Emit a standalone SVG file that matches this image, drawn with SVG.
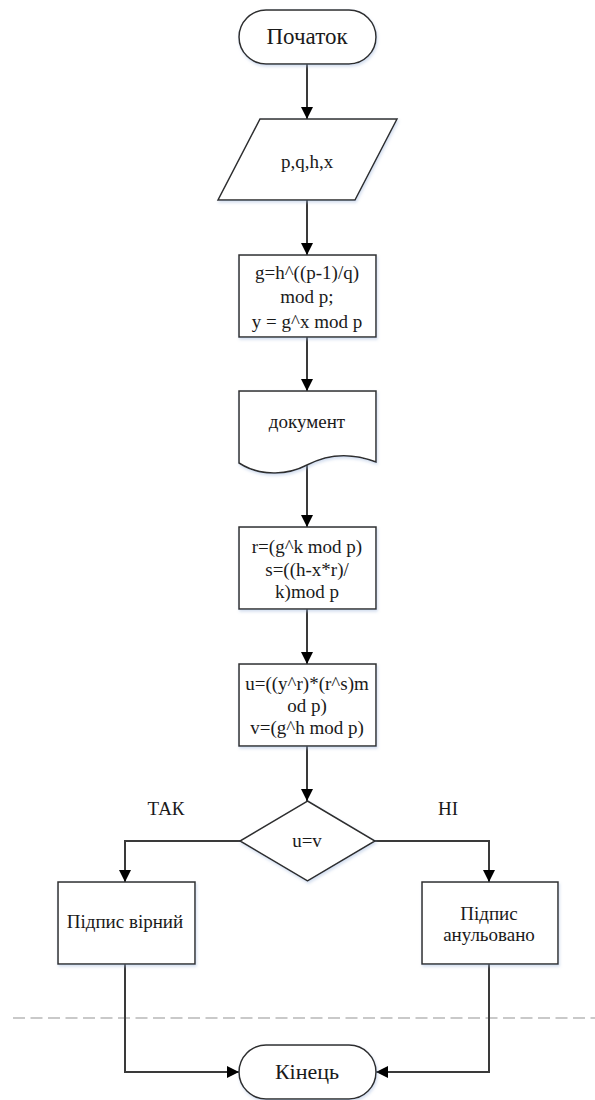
<svg xmlns="http://www.w3.org/2000/svg" width="595" height="1100" viewBox="0 0 595 1100">
  <style>
    .shape { fill: #ffffff; stroke: #2e2e2e; stroke-width: 1.5; filter: url(#soft); }
    .wire { fill: none; stroke: #3a3a3a; stroke-width: 2; marker-end: url(#arrow); }
    .label { font-family: 'Liberation Serif', 'Times New Roman', serif; font-size: 19px; fill: #1a1a1a; text-anchor: middle; }
    .big { font-size: 22px; }
    .rule { stroke: #b8b8b8; stroke-width: 1.5; stroke-dasharray: 12 5.5; fill: none; }
  </style>
  <defs>
    <filter id="soft" x="-10%" y="-10%" width="120%" height="130%">
      <feDropShadow dx="1" dy="2" stdDeviation="1.5" flood-color="#9fb6dc" flood-opacity="0.45"/>
    </filter>
    <marker id="arrow" markerUnits="userSpaceOnUse" markerWidth="12" markerHeight="12" refX="12" refY="6" orient="auto">
      <path d="M0,0 L12,6 L0,12 z" fill="#000000"/>
    </marker>
  </defs>

  <rect width="595" height="1100" fill="#ffffff"/>

  <!-- page break guide -->
  <line class="rule" x1="13" y1="1018" x2="595" y2="1018"/>

  <g id="connectors">
    <line class="wire" x1="307" y1="64" x2="307" y2="119"/>
    <line class="wire" x1="307" y1="200" x2="307" y2="255"/>
    <line class="wire" x1="307" y1="337" x2="307" y2="391"/>
    <line class="wire" x1="307" y1="465" x2="307" y2="527"/>
    <line class="wire" x1="307" y1="609" x2="307" y2="664"/>
    <line class="wire" x1="307" y1="746" x2="307" y2="801"/>
    <polyline class="wire" points="240,841 125,841 125,882"/>
    <polyline class="wire" points="375,841 489,841 489,882"/>
    <polyline class="wire" points="125,964 125,1072 239,1072"/>
    <polyline class="wire" points="489,964 489,1072 376,1072"/>
  </g>

  <g id="start">
    <rect class="shape" x="239" y="10" width="137" height="54" rx="27" ry="27"/>
    <text class="label big" x="307" y="44" style="font-size:23px">Початок</text>
  </g>

  <g id="input">
    <polygon class="shape" points="260,119 397,119 355,200 218,200"/>
    <text class="label" x="307" y="168">p,q,h,x</text>
  </g>

  <g id="keys">
    <rect class="shape" x="239" y="255" width="137" height="82"/>
    <text class="label" x="307" y="279">g=h^((p-1)/q)</text>
    <text class="label" x="307" y="303">mod p;</text>
    <text class="label" x="307" y="328">y = g^x mod p</text>
  </g>

  <g id="document">
    <path class="shape" d="M239,391 H376 V462 C350,452 326,455 307,465 C290,474 262,478 239,463 Z"/>
    <text class="label" x="307" y="428">документ</text>
  </g>

  <g id="sign">
    <rect class="shape" x="239" y="527" width="137" height="82"/>
    <text class="label" x="307" y="553">r=(g^k mod p)</text>
    <text class="label" x="307" y="576">s=((h-x*r)/</text>
    <text class="label" x="307" y="598">k)mod p</text>
  </g>

  <g id="verify">
    <rect class="shape" x="239" y="664" width="137" height="82"/>
    <text class="label" x="307" y="690">u=((y^r)*(r^s)m</text>
    <text class="label" x="307" y="712">od p)</text>
    <text class="label" x="307" y="734">v=(g^h mod p)</text>
  </g>

  <g id="check">
    <polygon class="shape" points="307.5,801 375,841 307.5,881 240,841"/>
    <text class="label" x="307" y="847">u=v</text>
  </g>

  <g id="branch-labels">
    <text class="label" x="166" y="815">ТАК</text>
    <text class="label" x="448" y="815">НІ</text>
  </g>

  <g id="valid">
    <rect class="shape" x="58" y="882" width="137" height="82"/>
    <text class="label" x="125" y="928">Підпис вірний</text>
  </g>

  <g id="revoked">
    <rect class="shape" x="422" y="882" width="136" height="82"/>
    <text class="label" x="489" y="920">Підпис</text>
    <text class="label" x="489" y="941">анульовано</text>
  </g>

  <g id="end">
    <rect class="shape" x="239" y="1045" width="137" height="54" rx="27" ry="27"/>
    <text class="label big" x="307" y="1079">Кінець</text>
  </g>
</svg>
